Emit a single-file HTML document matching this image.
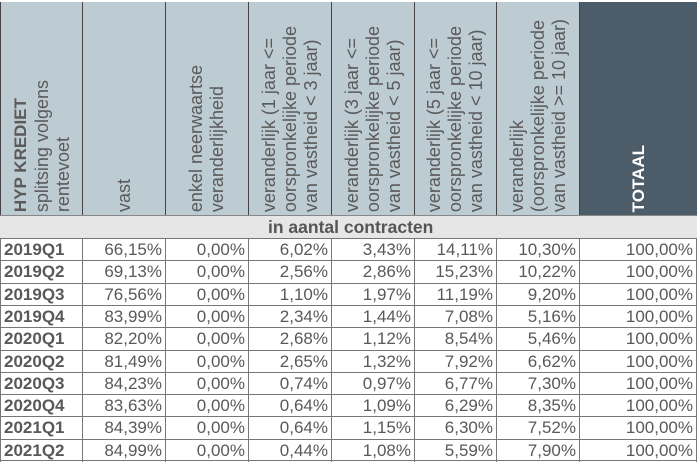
<!DOCTYPE html>
<html><head><meta charset="utf-8"><style>
body{margin:0;width:700px;height:468px;background:#fff;font-family:"Liberation Sans",Arial,sans-serif;color:#595959;position:relative;overflow:hidden}
.h{position:absolute;top:2px;height:213px;background:#bdcbd3;border-right:1.5px solid #444;box-sizing:border-box}
.h .t{position:absolute;bottom:3px;left:0;right:0;display:flex;justify-content:center}
.h .t span{writing-mode:vertical-rl;transform:rotate(180deg);font-size:18px;line-height:21px;color:#5a5a5a;white-space:nowrap;text-align:left}
.sub{position:absolute;left:0;top:215px;width:697px;height:23px;background:#e6e6e6;border-top:1px solid #888;font-weight:bold;font-size:17.5px;line-height:23px;color:#555}
.r{position:absolute;left:0;width:697px;height:22.3px;border-top:1px solid #777;box-sizing:border-box}
.c{position:absolute;top:0;height:22px;line-height:22px;font-size:17px;text-align:right;padding-right:3px;box-sizing:border-box;border-right:1px solid #777}
</style></head><body>
<div class="h" style="left:0;width:83px;border-left:1.5px solid #444"><div class="t"><span><b style="font-size:17px">HYP KREDIET</b><br>splitsing volgens<br>rentevoet</span></div></div>
<div class="h" style="left:83px;width:83px"><div class="t"><span>vast</span></div></div>
<div class="h" style="left:166px;width:83px"><div class="t"><span>enkel neerwaartse<br>veranderlijkheid</span></div></div>
<div class="h" style="left:249px;width:83px"><div class="t"><span>veranderlijk (1 jaar &lt;=<br>oorspronkelijke periode<br>van vastheid &lt; 3 jaar)</span></div></div>
<div class="h" style="left:332px;width:83px"><div class="t"><span>veranderlijk (3 jaar &lt;=<br>oorspronkelijke periode<br>van vastheid &lt; 5 jaar)</span></div></div>
<div class="h" style="left:415px;width:82px"><div class="t"><span>veranderlijk (5 jaar &lt;=<br>oorspronkelijke periode<br>van vastheid &lt; 10 jaar)</span></div></div>
<div class="h" style="left:497px;width:83px"><div class="t"><span>veranderlijk<br>(oorspronkelijke periode<br>van vastheid &gt;= 10 jaar)</span></div></div>
<div class="h" style="left:580px;width:117px;background:#4d5c69;border-right:none"><div class="t"><span style="color:#fff;font-size:17px;font-weight:bold">TOTAAL</span></div></div>
<div class="sub"><span style="position:absolute;left:268px">in aantal contracten</span></div>
<div id="rows"></div>
<script>
var d=[["2019Q1","66,15%","0,00%","6,02%","3,43%","14,11%","10,30%"],
["2019Q2","69,13%","0,00%","2,56%","2,86%","15,23%","10,22%"],
["2019Q3","76,56%","0,00%","1,10%","1,97%","11,19%","9,20%"],
["2019Q4","83,99%","0,00%","2,34%","1,44%","7,08%","5,16%"],
["2020Q1","82,20%","0,00%","2,68%","1,12%","8,54%","5,46%"],
["2020Q2","81,49%","0,00%","2,65%","1,32%","7,92%","6,62%"],
["2020Q3","84,23%","0,00%","0,74%","0,97%","6,77%","7,30%"],
["2020Q4","83,63%","0,00%","0,64%","1,09%","6,29%","8,35%"],
["2021Q1","84,39%","0,00%","0,64%","1,15%","6,30%","7,52%"],
["2021Q2","84,99%","0,00%","0,44%","1,08%","5,59%","7,90%"]];
var xs=[0,83,166,249,332,415,497,580,697],h="";
d.forEach(function(r,i){r.push("100,00%");h+='<div class="r" style="top:'+(238+i*22.3)+'px;'+(i==9?'border-bottom:1px solid #777;':'')+'">';
r.forEach(function(v,j){var s='left:'+xs[j]+'px;width:'+(xs[j+1]-xs[j])+'px;';
if(j==0)s+='text-align:left;padding-left:3px;font-weight:bold;border-left:1px solid #777;';
h+='<div class="c" style="'+s+'">'+v+'</div>';});h+='</div>';});
document.getElementById('rows').innerHTML=h;
</script>
</body></html>
